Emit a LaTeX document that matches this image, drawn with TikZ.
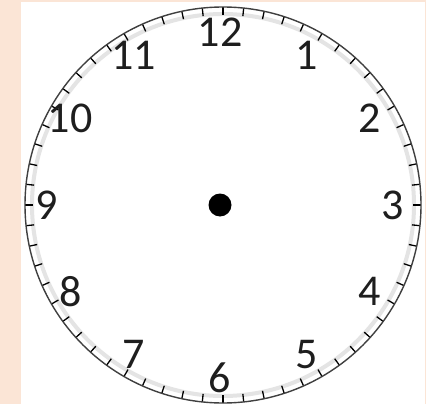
\documentclass[tikz,border=0pt]{standalone}
\usepackage{fontspec}
\setmainfont{Carlito}
\usetikzlibrary{calc}
\definecolor{cpeach}{HTML}{FBE5D6}
\definecolor{cring}{HTML}{E4E4E4}
\definecolor{cink}{HTML}{1E1E1E}
\tikzset{
  every picture/.style={x=1pt, y=-1pt},
  numeral/.style={font=\fontsize{44}{44}\selectfont, text=cink, inner sep=0pt},
  minutetick/.style={draw=black, line width=1.3pt},
  rim/.style={draw=cink!85, line width=1.4pt},
}

\begin{document}
\begin{tikzpicture}
  \useasboundingbox (0,0) rectangle (426,404);
  \fill[cpeach] (0,0) rectangle (426,404);
  \fill[white] (21,2) rectangle (425,404);
  \coordinate (C) at (223,205);
  \coordinate (D) at (220,205);
  % dial ring
  \draw[cring, line width=4pt] (C) circle (191);
  \foreach \m in {0,...,59}
    \draw[minutetick] ($(C)+(\m*6:190)$) -- ($(C)+(\m*6:198)$);
  \draw[rim] (C) circle (198);
  % hour numbers
  \foreach \h in {1,...,12}
    \node[numeral] (n\h) at ($(D)+(-90+30*\h:173)$) {\h};
  \node[circle, fill=black, minimum size=23pt, inner sep=0pt] (hub) at (D) {};
\end{tikzpicture}
\end{document}
